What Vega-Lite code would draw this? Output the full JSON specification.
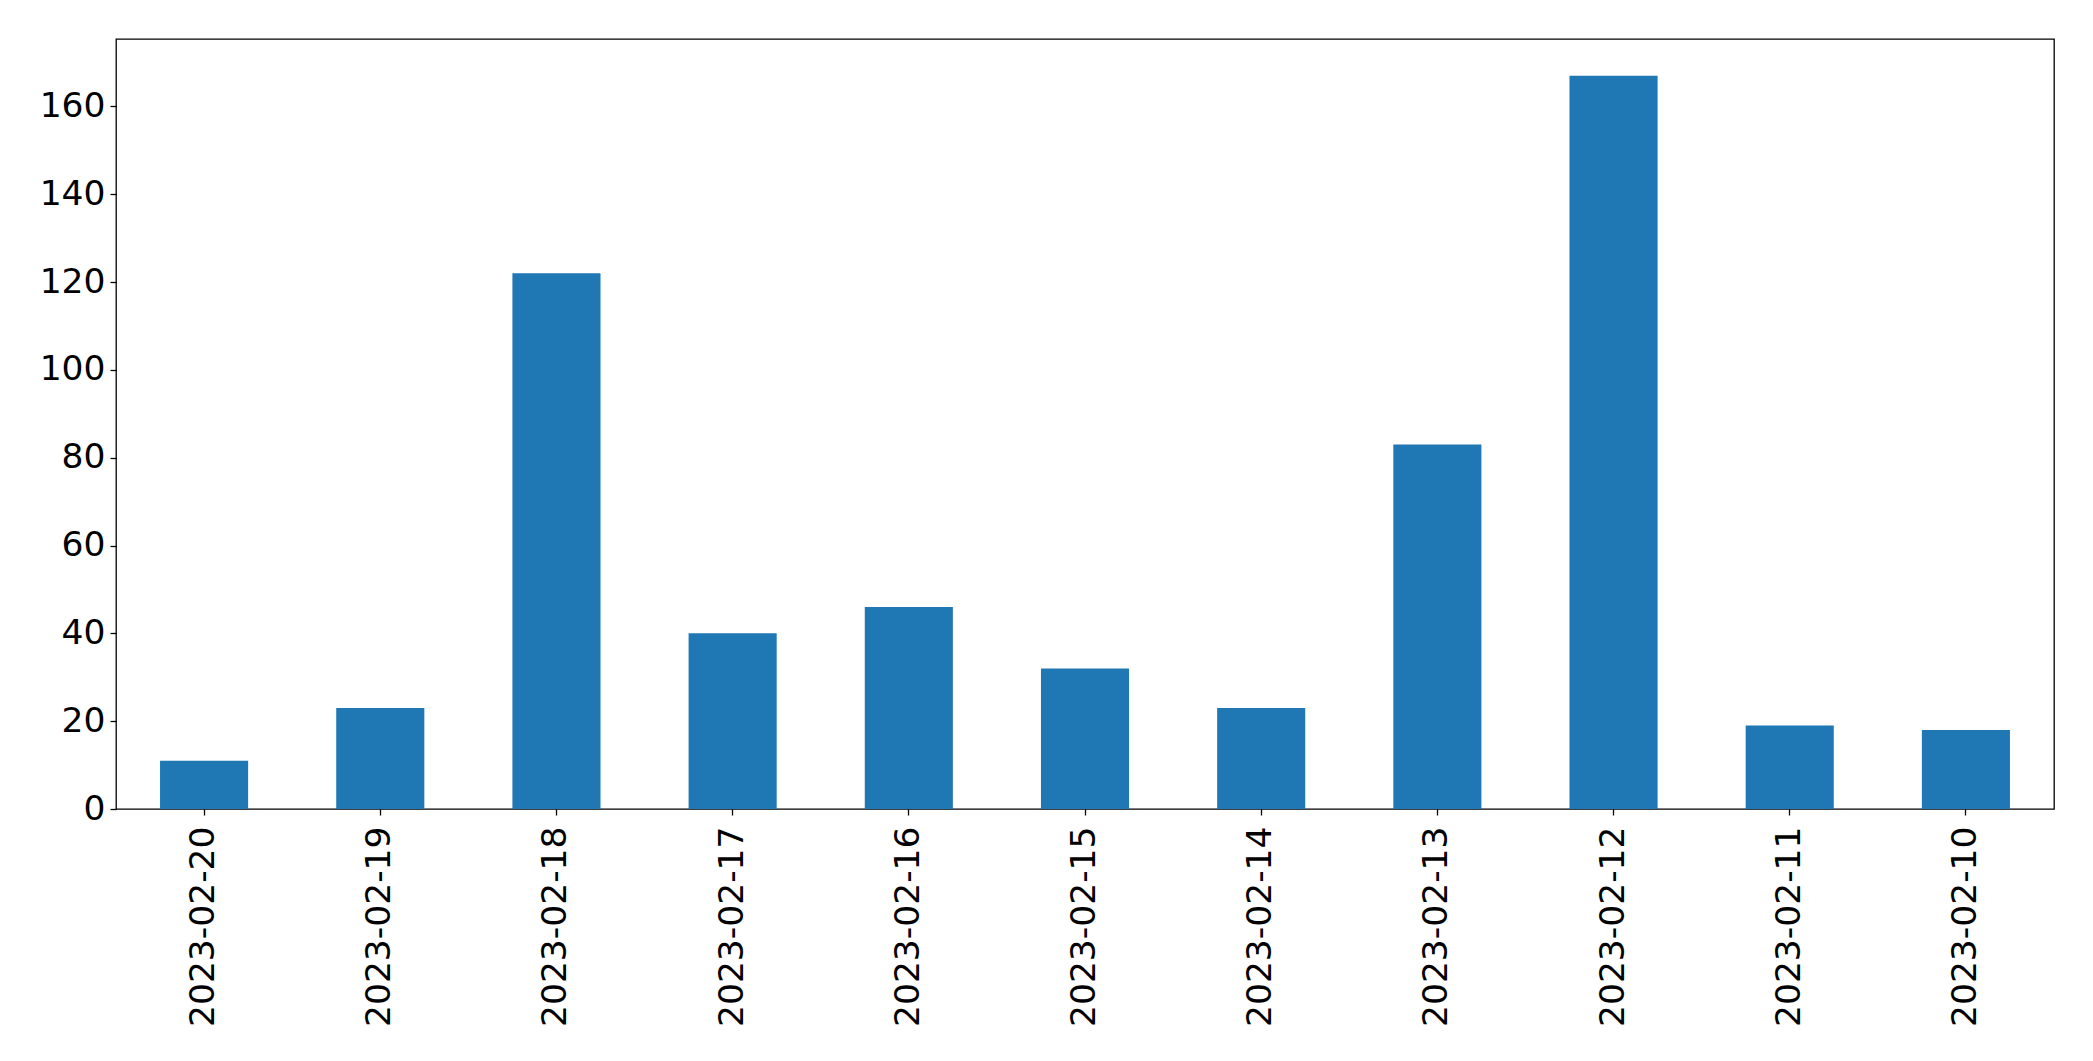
{
  "$schema": "https://vega.github.io/schema/vega-lite/v6.json",
  "width": 1938,
  "height": 770,
  "autosize": {"type": "none"},
  "padding": {"left": 116, "top": 39, "right": 39, "bottom": 252},
  "background": "white",
  "config": {
    "view": {"stroke": "black", "strokeWidth": 1.3},
    "axis": {"labelFont": "DejaVu Sans", "labelFontSize": 34.5, "labelColor": "black", "labelLimit": 0, "tickColor": "black", "tickSize": 6, "tickWidth": 1.3, "domain": false, "grid": false, "title": null}
  },
  "data": {
    "values": [
      {"date": "2023-02-20", "count": 11},
      {"date": "2023-02-19", "count": 23},
      {"date": "2023-02-18", "count": 122},
      {"date": "2023-02-17", "count": 40},
      {"date": "2023-02-16", "count": 46},
      {"date": "2023-02-15", "count": 32},
      {"date": "2023-02-14", "count": 23},
      {"date": "2023-02-13", "count": 83},
      {"date": "2023-02-12", "count": 167},
      {"date": "2023-02-11", "count": 19},
      {"date": "2023-02-10", "count": 18}
    ]
  },
  "mark": {"type": "bar", "color": "#1f77b4"},
  "encoding": {
    "x": {
      "field": "date", "type": "nominal", "sort": null,
      "scale": {"paddingInner": 0.5, "paddingOuter": 0.25},
      "axis": {"labelAngle": -90, "labelPadding": 11}
    },
    "y": {
      "field": "count", "type": "quantitative",
      "scale": {"domain": [0, 175.35], "nice": false, "zero": true},
      "axis": {"values": [0, 20, 40, 60, 80, 100, 120, 140, 160], "labelPadding": 5}
    }
  }
}
